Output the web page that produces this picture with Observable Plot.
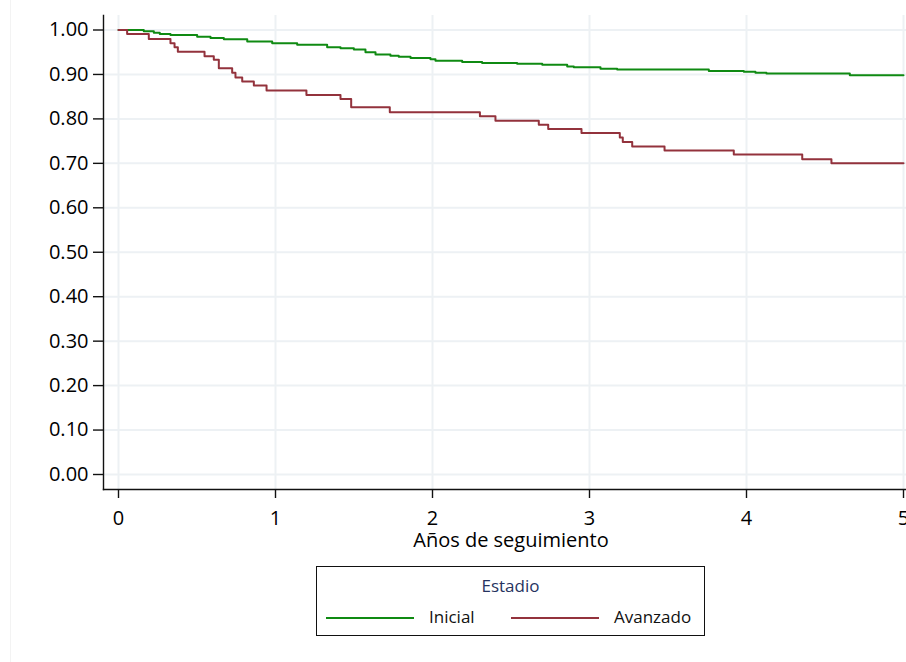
<!DOCTYPE html>
<html><head><meta charset="utf-8">
<script src="https://cdn.jsdelivr.net/npm/d3@7"></script>
<script src="https://cdn.jsdelivr.net/npm/@observablehq/plot@0.6"></script>
<style>
body{margin:0;background:#fff;font-family:"Open Sans",sans-serif;}
#wrap{position:relative;width:906px;height:662px;overflow:hidden;background:#fff;}
#edge{position:absolute;left:10px;top:0;width:1px;height:662px;background:#f3f3f3;}
#chart{position:absolute;left:0;top:0;}
#legend{position:absolute;left:316px;top:566px;width:389px;height:70px;border:1.3px solid #111;box-sizing:border-box;font-size:17px;color:#111;}
#legend .ttl{position:absolute;left:0;right:0;top:7px;text-align:center;color:#26335f;}
#legend .sw{position:absolute;top:50px;width:88px;height:0;border-top:2px solid;}
#legend .lb{position:absolute;top:38px;}
</style></head><body>
<div id="wrap"><div id="edge"></div><div id="chart"></div><div id="legend"></div></div>
<script>
const series = ["Inicial", "Avanzado"];
const seriesColors = ["#0f8a12", "#93323c"];
const xTicks = [0, 1, 2, 3, 4, 5];
const yTicks = [0, 0.1, 0.2, 0.3, 0.4, 0.5, 0.6, 0.7, 0.8, 0.9, 1.0];
const xLabel = "Años de seguimiento";
const legendTitle = "Estadio";

const inicialTime = [0, 0.161, 0.225, 0.263, 0.331, 0.501, 0.586, 0.671, 0.820, 0.979, 1.138, 1.329, 1.414, 1.499, 1.573, 1.637, 1.732, 1.785, 1.860, 1.987, 2.019, 2.189, 2.316, 2.539, 2.699, 2.858, 2.900, 3.070, 3.176, 3.760, 3.983, 4.057, 4.127, 4.658, 5.0];
const inicialSurv = [1.0, 0.997, 0.994, 0.991, 0.989, 0.985, 0.982, 0.979, 0.974, 0.970, 0.967, 0.961, 0.959, 0.956, 0.950, 0.945, 0.942, 0.940, 0.937, 0.934, 0.931, 0.928, 0.926, 0.924, 0.922, 0.918, 0.916, 0.913, 0.911, 0.908, 0.906, 0.904, 0.902, 0.898, 0.898];

const avanzadoTime = [0, 0.055, 0.193, 0.331, 0.357, 0.378, 0.548, 0.607, 0.639, 0.724, 0.745, 0.788, 0.862, 0.943, 1.197, 1.414, 1.482, 1.728, 2.302, 2.401, 2.677, 2.737, 2.949, 3.193, 3.212, 3.272, 3.478, 3.919, 4.355, 4.541, 5.0];
const avanzadoSurv = [1.0, 0.991, 0.980, 0.970, 0.961, 0.951, 0.941, 0.933, 0.914, 0.904, 0.893, 0.884, 0.875, 0.864, 0.854, 0.845, 0.826, 0.815, 0.806, 0.796, 0.787, 0.777, 0.768, 0.758, 0.748, 0.738, 0.729, 0.720, 0.709, 0.700, 0.700];

const data = [
  ...inicialTime.map((t, i) => ({serie: series[0], t, s: inicialSurv[i]})),
  ...avanzadoTime.map((t, i) => ({serie: series[1], t, s: avanzadoSurv[i]}))
];

const chart = Plot.plot({
  width: 906, height: 560,
  marginLeft: 103, marginTop: 15, marginBottom: 71, marginRight: -12,
  insetLeft: 15, insetRight: 15, insetTop: 14.5, insetBottom: 15,
  x: {domain: [0, 5]},
  y: {domain: [0, 1]},
  color: {domain: series, range: seriesColors},
  style: {fontFamily: "'Open Sans', sans-serif", fontSize: "20px", color: "#000", background: "transparent"},
  marks: [
    Plot.gridY(yTicks, {stroke: "#edf1f4", strokeOpacity: 1, strokeWidth: 2}),
    Plot.gridX(xTicks, {stroke: "#edf1f4", strokeOpacity: 1, strokeWidth: 2}),
    Plot.line(data, {x: "t", y: "s", z: "serie", stroke: "serie", curve: "step-after", strokeWidth: 2}),
    Plot.frame({anchor: "left", stroke: "#111", strokeWidth: 1.4}),
    Plot.frame({anchor: "bottom", stroke: "#111", strokeWidth: 1.4}),
    Plot.axisY(yTicks, {tickSize: 10, tickPadding: 5, fontSize: 20, tickFormat: d3.format(".2f"), label: null, stroke: "#111", strokeWidth: 1.4}),
    Plot.axisX(xTicks, {tickSize: 9, tickPadding: 12, fontSize: 20, tickFormat: d3.format("d"), label: null, stroke: "#111", strokeWidth: 1.4}),
    Plot.text([xLabel], {frameAnchor: "bottom", dy: 57, fontSize: 20, fill: "#000"})
  ]
});
document.getElementById("chart").appendChild(chart);

const lg = document.getElementById("legend");
const t = document.createElement("div"); t.className = "ttl"; t.textContent = legendTitle; lg.appendChild(t);
const swLeft = [9, 194], lbLeft = [112, 297];
series.forEach((s, i) => {
  const sw = document.createElement("div"); sw.className = "sw";
  sw.style.left = swLeft[i] + "px"; sw.style.borderTopColor = seriesColors[i]; lg.appendChild(sw);
  const lb = document.createElement("div"); lb.className = "lb";
  lb.style.left = lbLeft[i] + "px"; lb.textContent = s; lg.appendChild(lb);
});
</script>
</body></html>
